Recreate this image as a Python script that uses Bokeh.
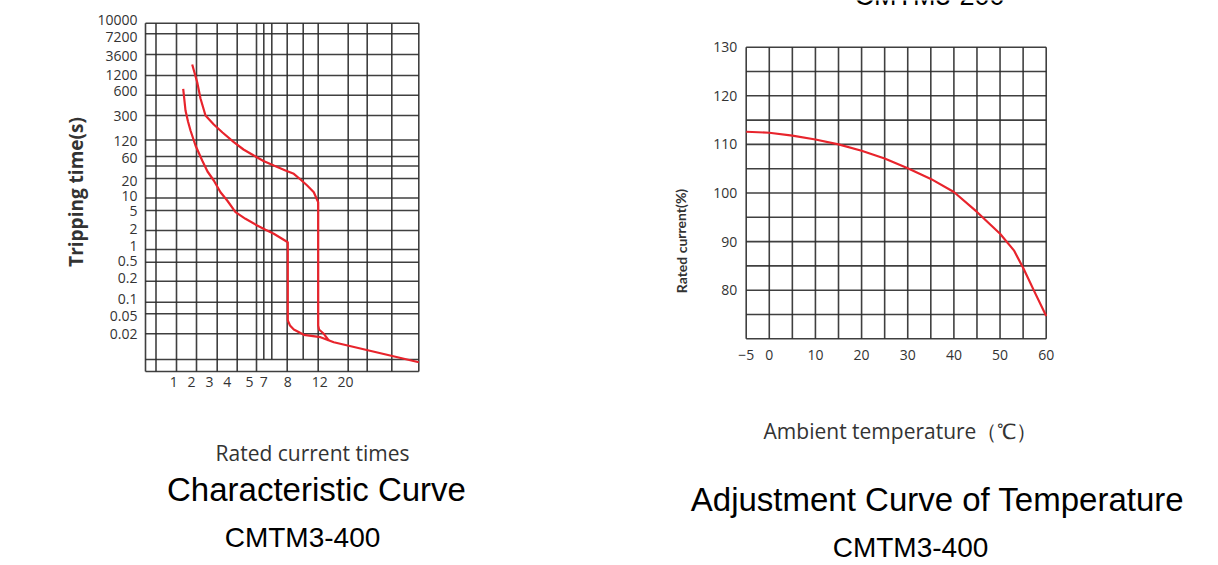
from bokeh.plotting import figure
from bokeh.layouts import row
from bokeh.models import FixedTicker, Label, Range1d
from bokeh.embed import file_html
from bokeh.resources import INLINE

# ---------------- Characteristic Curve (CMTM3-400) ----------------
# The printed chart uses an irregular grid; positions are in chart units
# measured from the lower-left corner of the printed grid.
trip_time_labels = ["10000", "7200", "3600", "1200", "600", "300", "120", "60", "20",
                    "10", "5", "2", "1", "0.5", "0.2", "0.1", "0.05", "0.02"]
trip_time_pos = [351.7, 334.3, 316.0, 297.0, 280.3, 256.0, 231.0, 213.7, 191.0,
                 176.0, 161.0, 142.7, 126.0, 110.3, 93.3, 72.7, 56.0, 37.7]
current_labels = ["1", "2", "3", "4", "5", "7", "8", "12", "20"]
current_pos = [28.3, 46.0, 64.0, 81.7, 104.0, 118.3, 142.3, 174.3, 200.0]

grid_v_pos = [0, 10.5, 31, 51, 71.7, 91.7, 111, 118.3, 126.3, 141.7, 157.7, 172.7,
              202.7, 221.7, 246.3, 273.3]
grid_v_bottom = [0, 0, 0, 0, 0, 0, 0, 12, 12, 0, 12, 0, 0, 0, 0, 0]
grid_h_pos = [348.3, 337.7, 317, 296, 276.3, 256, 231.5, 215, 205.5, 193, 173.5, 161,
              141, 122, 109.3, 90.3, 69.3, 57.7, 37.7, 12, 0]

upper_x = [46.7, 51.7, 55.0, 60.0, 68.3, 77.0, 88.3, 98.0, 108.3, 118.0, 128.3, 140.0,
           148.3, 155.0, 161.7, 168.3, 172.7, 172.7, 173.5, 178.3, 183.3]
upper_y = [307.0, 289.3, 273.0, 256.0, 247.0, 239.0, 229.3, 222.0, 216.0, 210.5, 206.0,
           201.0, 197.7, 192.0, 186.0, 179.3, 169.3, 46.0, 42.0, 37.7, 31.0]
lower_x = [37.7, 40.0, 42.5, 45.0, 50.0, 56.7, 62.0, 68.3, 75.0, 81.7, 90.0, 100.0,
           111.7, 120.0, 128.3, 142.3, 142.3, 144.5, 148.3, 158.3, 175.0, 188.3, 273.3]
lower_y = [282.7, 261.0, 250.0, 241.0, 226.0, 211.0, 200.0, 191.0, 179.3, 171.0, 159.3,
           152.7, 146.0, 141.8, 137.7, 129.3, 51.0, 46.0, 42.0, 36.7, 34.3, 29.3, 9.3]

# ---------------- Adjustment Curve of Temperature (CMTM3-400) ----------------
temp_c = [-5, 0, 5, 10, 15, 20, 25, 30, 35, 40, 45, 50, 53, 55, 57.5, 60]
rated_pct = [112.6, 112.4, 111.8, 111.0, 110.0, 108.7, 107.1, 105.1, 102.9, 100.2,
             96.1, 91.6, 88.2, 84.6, 79.6, 74.7]
temp_ticks = [-5, 0, 10, 20, 30, 40, 50, 60]
temp_tick_labels = ["\u22125", "0", "10", "20", "30", "40", "50", "60"]
pct_ticks = [80, 90, 100, 110, 120, 130]
temp_grid = [-5, 0, 5, 10, 15, 20, 25, 30, 35, 40, 45, 50, 55, 60]
pct_grid = [70, 75, 80, 85, 90, 95, 100, 105, 110, 115, 120, 125, 130]

GRID_COLOR = "#2b2b2b"
RED = "#e8242c"
TICK_FONT = "Open Sans"
TXT = "#333333"


def style_axes(p, size):
    for ax in (p.xaxis[0], p.yaxis[0]):
        ax.axis_line_color = None
        ax.major_tick_line_color = None
        ax.minor_tick_line_color = None
        ax.major_tick_out = 0
        ax.major_tick_in = 0
        ax.minor_tick_out = 0
        ax.major_label_text_font = TICK_FONT
        ax.major_label_text_font_size = size
        ax.major_label_text_color = TXT
    p.xgrid.visible = False
    p.ygrid.visible = False
    p.outline_line_color = None
    p.background_fill_color = "white"
    p.border_fill_color = "white"


class PageMap:
    """Maps page pixels to the data units of a plot whose frame fills its canvas."""
    def __init__(self, px0, px1, py0, py1, xr, yr):
        self.px0, self.py1 = px0, py1
        self.xs, self.ys = xr.start, yr.start
        self.kx = (xr.end - xr.start) / (px1 - px0)
        self.ky = (yr.end - yr.start) / (py1 - py0)

    def pos(self, page_x, page_y):
        return (self.xs + (page_x - self.px0) * self.kx,
                self.ys + (self.py1 - page_y) * self.ky)


def add_text(p, pm, text, page_x, page_y, size, font, color="black", style="normal",
             angle=0.0, baseline="middle"):
    x, y = pm.pos(page_x, page_y)
    p.add_layout(Label(x=x, y=y, text=text,
                       text_font=font, text_font_size=size, text_color=color,
                       text_font_style=style, text_align="center",
                       text_baseline=baseline, angle=angle))


PAGE_H = 565

# ---- left figure: frame fills the canvas, axes fixed at the grid's edges ----
L_W = 618
xr1 = Range1d(-145, 473)
yr1 = Range1d(-194, 371)
p1 = figure(width=L_W, height=PAGE_H, x_range=xr1, y_range=yr1, title_location=None,
            min_border_left=0, min_border_right=0, min_border_top=0, min_border_bottom=0,
            toolbar_location=None, output_backend="svg")
style_axes(p1, "14px")
pm1 = PageMap(0, L_W, 0, PAGE_H, xr1, yr1)

top = max(grid_h_pos)
right = max(grid_v_pos)
p1.segment(x0=grid_v_pos, x1=grid_v_pos, y0=grid_v_bottom, y1=[top] * len(grid_v_pos),
           line_color=GRID_COLOR, line_width=1.6, line_alpha=0.9)
p1.segment(x0=[0] * len(grid_h_pos), x1=[right] * len(grid_h_pos), y0=grid_h_pos,
           y1=grid_h_pos, line_color=GRID_COLOR, line_width=1.6, line_alpha=0.9)
p1.line(upper_x, upper_y, line_color=RED, line_width=2.2)
p1.line(lower_x, lower_y, line_color=RED, line_width=2.2)

p1.xaxis.ticker = FixedTicker(ticks=current_pos)
p1.xaxis.major_label_overrides = dict(zip(current_pos, current_labels))
p1.xaxis.fixed_location = 0
p1.xaxis.major_label_standoff = 5
p1.yaxis.ticker = FixedTicker(ticks=trip_time_pos)
p1.yaxis.major_label_overrides = dict(zip(trip_time_pos, trip_time_labels))
p1.yaxis.fixed_location = 0
p1.yaxis.major_label_standoff = 8

add_text(p1, pm1, "Tripping time(s)", 75.5, 191.5, "19px", "Open Sans", TXT, "bold", 1.5708)
add_text(p1, pm1, "Rated current times", 312, 452, "21px", "Open Sans", TXT)
add_text(p1, pm1, "Characteristic Curve", 316, 489, "33px", "Liberation Sans", "black")
add_text(p1, pm1, "CMTM3-400", 302, 537, "28px", "Liberation Sans", "black")

# ---- right figure ----
R_W = 600
xr2 = Range1d(-32.668, 97.33)
yr2 = Range1d(23.35, 139.61)
p2 = figure(width=R_W, height=PAGE_H, x_range=xr2, y_range=yr2, title_location=None,
            min_border_left=0, min_border_right=0, min_border_top=0, min_border_bottom=0,
            toolbar_location=None, output_backend="svg")
style_axes(p2, "14px")
pm2 = PageMap(L_W, L_W + R_W, 0, PAGE_H, xr2, yr2)

p2.segment(x0=temp_grid, x1=temp_grid, y0=[min(pct_grid)] * len(temp_grid),
           y1=[max(pct_grid)] * len(temp_grid), line_color=GRID_COLOR, line_width=1.6,
           line_alpha=0.9)
p2.segment(x0=[min(temp_grid)] * len(pct_grid), x1=[max(temp_grid)] * len(pct_grid),
           y0=pct_grid, y1=pct_grid, line_color=GRID_COLOR, line_width=1.6, line_alpha=0.9)
p2.line(temp_c, rated_pct, line_color=RED, line_width=2.2)

p2.xaxis.ticker = FixedTicker(ticks=temp_ticks)
p2.xaxis.major_label_overrides = dict(zip(temp_ticks, temp_tick_labels))
p2.xaxis.fixed_location = min(pct_grid)
p2.xaxis.major_label_standoff = 11
p2.yaxis.ticker = FixedTicker(ticks=pct_ticks)
p2.yaxis.fixed_location = min(temp_grid)
p2.yaxis.major_label_standoff = 9

# caption of the chart above, cut off by the top edge of the picture (as in the source)
add_text(p2, pm2, "CMTM3-200", 929, -5, "27px", "Liberation Sans", "black",
         baseline="alphabetic")
add_text(p2, pm2, "Rated current(%)", 680.5, 240.5, "14px", "Lato", TXT, "bold", 1.5708)
add_text(p2, pm2, "Ambient temperature\uff08\u2103\uff09", 900, 430, "21px", "Open Sans", TXT)
add_text(p2, pm2, "Adjustment Curve of Temperature", 937, 499, "33px", "Liberation Sans", "black")
add_text(p2, pm2, "CMTM3-400", 910, 547, "28px", "Liberation Sans", "black")

layout = row(p1, p2)
open("out.html", "w").write(file_html(layout, INLINE))
